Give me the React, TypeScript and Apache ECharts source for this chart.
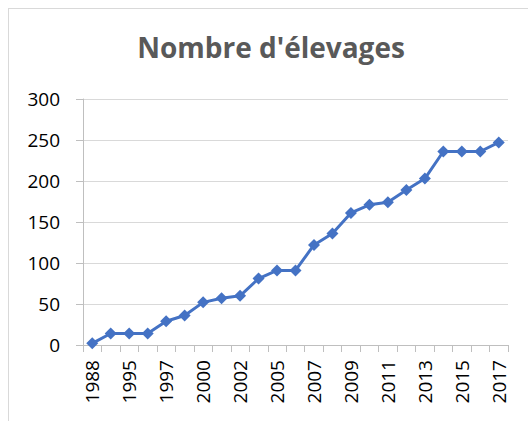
import React, { useEffect, useRef } from "react";
import * as echarts from "echarts";

const titleText = "Nombre d'élevages";
const years = [
  "1988", "1994", "1995", "1996", "1997", "1999", "2000", "2001", "2002", "2004", "2005", "2006",
  "2007", "2008", "2009", "2010", "2011", "2012", "2013", "2014", "2015", "2016", "2017",
];
const counts = [2, 14, 14, 14, 29, 36, 52, 57, 60, 81, 91, 91, 122, 136, 161, 171, 174, 189, 203, 236, 236, 236, 247];
const yTicks = { min: 0, max: 300, interval: 50 };

export default function App() {
  const ref = useRef<HTMLDivElement>(null);
  useEffect(() => {
    if (!ref.current) return;
    const chart = echarts.init(ref.current, null, { renderer: "svg" });
    chart.setOption({
      animation: false,
      backgroundColor: "#ffffff",
      title: {
        text: titleText,
        left: 266,
        top: 28,
        textAlign: "center",
        textStyle: { fontFamily: "Open Sans", fontWeight: "bold", fontSize: 28, color: "#595959" },
      },
      graphic: [
        { type: "line", shape: { x1: 8, y1: 8.5, x2: 528, y2: 8.5 }, style: { stroke: "#d9d9d9", lineWidth: 1 } },
        { type: "line", shape: { x1: 8.5, y1: 8, x2: 8.5, y2: 421 }, style: { stroke: "#d9d9d9", lineWidth: 1 } },
      ],
      grid: { left: 83, right: 20, top: 99, bottom: 76 },
      xAxis: {
        type: "category",
        data: years,
        boundaryGap: true,
        axisLine: { show: true, lineStyle: { color: "#bfbfbf", width: 1 } },
        axisTick: { show: true, interval: 0, length: 7, lineStyle: { color: "#bfbfbf" } },
        axisLabel: {
          interval: 1,
          rotate: 90,
          margin: 15,
          fontFamily: "Open Sans",
          fontSize: 19,
          color: "#000000",
        },
        splitLine: { show: false },
      },
      yAxis: {
        type: "value",
        min: yTicks.min,
        max: yTicks.max,
        interval: yTicks.interval,
        axisLine: { show: true, lineStyle: { color: "#bfbfbf", width: 1 } },
        axisTick: { show: true, length: 7, lineStyle: { color: "#bfbfbf" } },
        axisLabel: { margin: 23, fontFamily: "Open Sans", fontSize: 19, color: "#000000" },
        splitLine: { show: true, lineStyle: { color: "#d9d9d9", width: 1 } },
      },
      series: [
        {
          type: "line",
          data: counts,
          symbol: "diamond",
          symbolSize: 12,
          lineStyle: { color: "#4472c4", width: 3 },
          itemStyle: { color: "#4472c4" },
        },
      ],
    });
    return () => chart.dispose();
  }, []);
  return <div ref={ref} style={{ width: 528, height: 421, position: "absolute", left: 0, top: 0 }} />;
}
